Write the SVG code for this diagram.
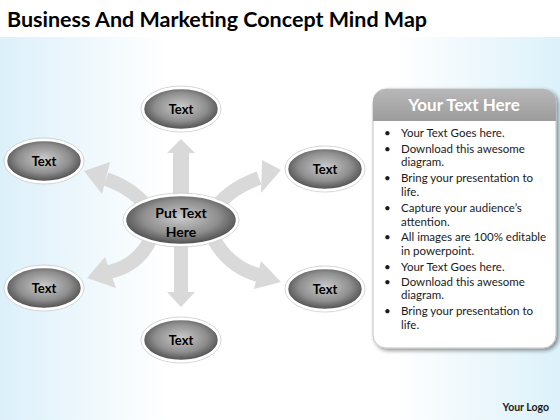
<svg xmlns="http://www.w3.org/2000/svg" width="560" height="420" viewBox="0 0 560 420">
<defs>
<linearGradient id="bg" x1="0" y1="0" x2="1" y2="0">
<stop offset="0" stop-color="#dcf0fa"/>
<stop offset="0.3" stop-color="#ffffff"/>
<stop offset="0.7" stop-color="#ffffff"/>
<stop offset="1" stop-color="#dcf1fa"/>
</linearGradient>
<linearGradient id="bgv" x1="0" y1="0" x2="0" y2="1">
<stop offset="0" stop-color="#ffffff" stop-opacity="0"/>
<stop offset="1" stop-color="#ffffff" stop-opacity="0.2"/>
</linearGradient>
<radialGradient id="node" cx="50%" cy="45%" r="62%">
<stop offset="0" stop-color="#cbcbcb"/>
<stop offset="0.55" stop-color="#8e8e8e"/>
<stop offset="1" stop-color="#333333"/>
</radialGradient>
<linearGradient id="hdr" x1="0" y1="0" x2="0" y2="1">
<stop offset="0" stop-color="#b8b8b8"/>
<stop offset="1" stop-color="#9c9c9c"/>
</linearGradient>
<filter id="sh" x="-10%" y="-10%" width="125%" height="125%">
<feGaussianBlur in="SourceAlpha" stdDeviation="2"/>
<feOffset dx="1.5" dy="2" result="b"/>
<feComponentTransfer><feFuncA type="linear" slope="0.45"/></feComponentTransfer>
<feMerge><feMergeNode/><feMergeNode in="SourceGraphic"/></feMerge>
</filter>
</defs>
<style>
.title{font-family:Lato,"Liberation Sans",sans-serif;font-weight:bold;font-size:21px;fill:#000}
.nt{font-family:Lato,"Liberation Sans",sans-serif;font-weight:bold;font-size:13px;fill:#000;text-anchor:middle}
.ct{font-family:Lato,"Liberation Sans",sans-serif;font-weight:bold;font-size:14px;fill:#000;text-anchor:middle}
.ell{fill:url(#node);stroke:#ffffff;stroke-width:2.5}
.halo{fill:none;stroke:#d4d4d4;stroke-width:1}
.band{fill:none;stroke:#d9d9d9;stroke-width:14}
.head{fill:#d9d9d9}
.pt{font-family:Lato,"Liberation Sans",sans-serif;font-size:11.5px;fill:#1a1a1a}
.ht{font-family:Lato,"Liberation Sans",sans-serif;font-weight:bold;font-size:17px;fill:#ffffff;text-anchor:middle}
</style>
<rect x="0" y="0" width="560" height="420" fill="url(#bg)"/>
<rect x="0" y="0" width="560" height="37" fill="#ffffff"/>
<text class="title" x="7" y="27" textLength="420" lengthAdjust="spacingAndGlyphs">Business And Marketing Concept Mind Map</text>

<g id="connectors">
<rect class="head" x="173" y="152" width="16" height="50"/>
<polygon class="head" points="167,153 181,139 195,153"/>
<rect class="head" x="174" y="238" width="14" height="55"/>
<polygon class="head" points="167,292 181,307 195,292"/>
<path class="band" d="M150,212 Q137,190 106,179"/>
<polygon class="head" points="110,162 84,171 102,194"/>
<path class="band" d="M213,212 Q226,190 259,178"/>
<polygon class="head" points="262,160 281,170 261,193"/>
<path class="band" d="M152,236 Q140,265 109,272"/>
<polygon class="head" points="105,257 87,278 116,288"/>
<path class="band" d="M212,236 Q227,266 258,275"/>
<polygon class="head" points="261,261 281,282 254,289"/>
</g>

<g id="n-top"><ellipse class="halo" cx="181" cy="109" rx="40" ry="23"/><ellipse class="ell" cx="181" cy="109" rx="38" ry="21"/><text class="nt" x="181" y="114">Text</text></g>
<g id="n-left-top"><ellipse class="halo" cx="44" cy="161" rx="40" ry="23"/><ellipse class="ell" cx="44" cy="161" rx="38" ry="21"/><text class="nt" x="44" y="166">Text</text></g>
<g id="n-right-top"><ellipse class="halo" cx="325" cy="169" rx="40" ry="23"/><ellipse class="ell" cx="325" cy="169" rx="38" ry="21"/><text class="nt" x="325" y="174">Text</text></g>
<g id="n-center"><ellipse class="halo" cx="181" cy="220" rx="58" ry="27"/><ellipse class="ell" cx="181" cy="220" rx="56" ry="25"/><text class="ct" x="181" y="218">Put Text</text><text class="ct" x="181" y="237">Here</text></g>
<g id="n-left-bottom"><ellipse class="halo" cx="44" cy="288" rx="40" ry="23"/><ellipse class="ell" cx="44" cy="288" rx="38" ry="21"/><text class="nt" x="44" y="293">Text</text></g>
<g id="n-right-bottom"><ellipse class="halo" cx="325" cy="289" rx="40" ry="23"/><ellipse class="ell" cx="325" cy="289" rx="38" ry="21"/><text class="nt" x="325" y="294">Text</text></g>
<g id="n-bottom"><ellipse class="halo" cx="181" cy="340" rx="40" ry="23"/><ellipse class="ell" cx="181" cy="340" rx="38" ry="21"/><text class="nt" x="181" y="345">Text</text></g>

<g id="panel">
<rect x="373" y="89" width="183" height="259" rx="13" fill="#ffffff" stroke="#c4c4c4" stroke-width="1" filter="url(#sh)"/>
<path d="M373,121 V102 A13,13 0 0 1 386,89 H543 A13,13 0 0 1 556,102 V121 Z" fill="url(#hdr)"/>
<text class="ht" x="464" y="111">Your Text Here</text>
<g class="pt">
<text x="384" y="137">•</text><text x="401" y="137">Your Text Goes here.</text>
<text x="384" y="153">•</text><text x="401" y="153">Download this awesome</text>
<text x="401" y="166">diagram.</text>
<text x="384" y="182">•</text><text x="401" y="182">Bring your presentation to</text>
<text x="401" y="195.5">life.</text>
<text x="384" y="211.5">•</text><text x="401" y="211.5">Capture your audience’s</text>
<text x="401" y="225.5">attention.</text>
<text x="384" y="241">•</text><text x="401" y="241">All images are 100% editable</text>
<text x="401" y="254.5">in powerpoint.</text>
<text x="384" y="270.5">•</text><text x="401" y="270.5">Your Text Goes here.</text>
<text x="384" y="286">•</text><text x="401" y="286">Download this awesome</text>
<text x="401" y="299">diagram.</text>
<text x="384" y="314.5">•</text><text x="401" y="314.5">Bring your presentation to</text>
<text x="401" y="329">life.</text>
</g>
</g>
<text x="549" y="411" text-anchor="end" style="font-family:Lato,'Liberation Sans',sans-serif;font-weight:bold;font-size:10.5px;fill:#1a1a1a">Your Logo</text>
</svg>
